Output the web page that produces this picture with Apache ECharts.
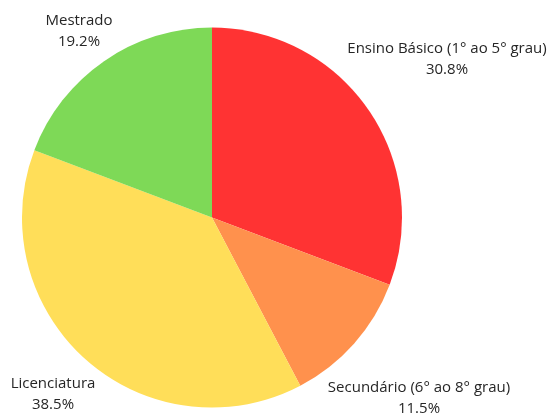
<!DOCTYPE html>
<html>
<head>
<meta charset="utf-8">
<script src="https://cdn.jsdelivr.net/npm/echarts@6/dist/echarts.min.js"></script>
<style>
  html, body { margin: 0; padding: 0; background: #fff; }
  #chart { width: 550px; height: 414px; }
</style>
</head>
<body>
<div id="chart"></div>
<script>
// níveis de escolaridade e contagens
const categories = ['Ensino Básico (1° ao 5° grau)', 'Secundário (6° ao 8° grau)', 'Licenciatura', 'Mestrado'];
const values = [8, 3, 10, 5];
const colors = ['#FF3333', '#FF914D', '#FFDE59', '#7ED957'];

// posição dos rótulos (centro do bloco de texto)
const labelPos = [[447, 59], [419, 398], [53, 394], [79, 31]];

const myChart = echarts.init(document.getElementById('chart'));
myChart.setOption({
  animation: false,
  backgroundColor: '#fff',
  series: [{
    type: 'pie',
    center: [212, 217.5],
    radius: 190,
    startAngle: 90,
    clockwise: true,
    percentPrecision: 1,
    emphasis: { disabled: true },
    label: {
      show: true,
      position: 'outside',
      formatter: '{b}\n{d}%',
      fontFamily: 'Open Sans',
      fontSize: 15,
      lineHeight: 21,
      color: '#262626',
      overflow: 'none'
    },
    labelLine: { show: false },
    labelLayout: function (params) {
      const p = labelPos[params.dataIndex];
      return { x: p[0], y: p[1], align: 'center', verticalAlign: 'middle' };
    },
    data: categories.map((name, i) => ({
      name: name,
      value: values[i],
      itemStyle: { color: colors[i] }
    }))
  }]
});
</script>
</body>
</html>
